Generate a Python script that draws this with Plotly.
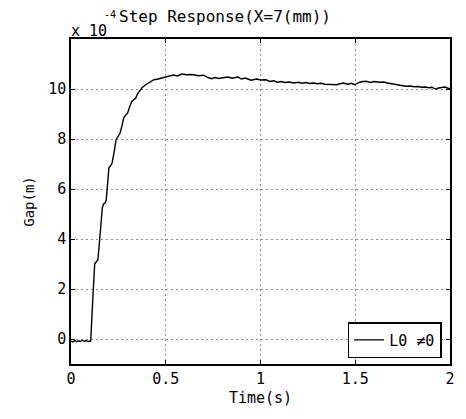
import plotly.graph_objects as go

t = [0, 0.01, 0.02, 0.03, 0.04, 0.05, 0.06, 0.07, 0.08, 0.09, 0.10, 0.104, 0.115, 0.125, 0.135, 0.142,
     0.155, 0.165, 0.172, 0.18, 0.186, 0.195, 0.2, 0.21, 0.217, 0.228, 0.238, 0.248, 0.259, 0.268,
     0.278, 0.288, 0.299, 0.31, 0.321, 0.332, 0.342, 0.35, 0.359, 0.375, 0.394, 0.41, 0.4375, 0.46,
     0.48, 0.498, 0.52, 0.54, 0.56, 0.585, 0.61, 0.64, 0.672, 0.70, 0.72, 0.741, 0.76, 0.78, 0.80,
     0.828, 0.85, 0.88, 0.90, 0.92, 0.95, 0.98, 1.0, 1.028, 1.05, 1.07, 1.089, 1.11, 1.13, 1.15,
     1.175, 1.20, 1.22, 1.24, 1.26, 1.28, 1.30, 1.32, 1.34, 1.36, 1.38, 1.40, 1.42, 1.436, 1.46,
     1.48, 1.497, 1.52, 1.54, 1.557, 1.58, 1.60, 1.627, 1.65, 1.67, 1.696, 1.72, 1.74, 1.766,
     1.79, 1.81, 1.83, 1.85, 1.87, 1.89, 1.905, 1.922, 1.94, 1.96, 1.974, 1.99, 2.0]
gap = [-0.08, -0.12, -0.06, -0.11, -0.07, -0.1, -0.05, -0.09, -0.06, -0.1, -0.08, -0.1, 1.6, 3.0, 3.1, 3.17,
       4.3, 5.24, 5.4, 5.44, 5.57, 6.3, 6.84, 6.95, 7.04, 7.5, 7.97, 8.1, 8.24, 8.5,
       8.84, 8.95, 9.04, 9.3, 9.5, 9.58, 9.64, 9.8, 9.9, 10.05, 10.17, 10.25, 10.37, 10.4,
       10.44, 10.48, 10.5, 10.56, 10.52, 10.6, 10.57, 10.58, 10.53, 10.55, 10.47, 10.41, 10.46, 10.42, 10.45,
       10.48, 10.43, 10.48, 10.4, 10.44, 10.35, 10.4, 10.36, 10.37, 10.3, 10.33, 10.27, 10.3, 10.26, 10.28,
       10.24, 10.27, 10.23, 10.26, 10.22, 10.24, 10.21, 10.23, 10.19, 10.2, 10.18, 10.17, 10.22, 10.24, 10.19,
       10.23, 10.17, 10.26, 10.3, 10.31, 10.26, 10.3, 10.27, 10.28, 10.24, 10.21, 10.18, 10.15, 10.11,
       10.12, 10.09, 10.1, 10.07, 10.08, 10.05, 10.07, 10.0, 10.04, 10.06, 10.08, 10.03, 10.0]

x_ticks = [0, 0.5, 1, 1.5, 2]
x_ticklabels = ["0", "0.5", "1", "1.5", "2"]
y_ticks = [0, 2, 4, 6, 8, 10]

FONT = "DejaVu Sans Mono"

fig = go.Figure()
fig.add_trace(go.Scatter(x=t, y=gap, mode="lines", name="L0 ≠0",
                         line=dict(color="black", width=1.4)))

axis_common = dict(showline=True, linecolor="black", linewidth=1.5, mirror="ticks",
                   ticks="inside", ticklen=4, tickcolor="black",
                   showgrid=True, gridcolor="#909090", griddash="2px,3px", gridwidth=1,
                   zeroline=False, tickfont=dict(family=FONT, size=15, color="black"))

fig.update_xaxes(range=[0, 2], tickvals=x_ticks, ticktext=x_ticklabels,
                 title=dict(text="Time(s)", font=dict(family=FONT, size=15, color="black"), standoff=6),
                 **axis_common)
fig.update_yaxes(range=[-1, 12], tickvals=y_ticks,
                 title=dict(text="Gap(m)", font=dict(family=FONT, size=14, color="black"), standoff=10),
                 **axis_common)

fig.add_annotation(x=0, y=1, xref="paper", yref="paper", xanchor="left", yanchor="bottom",
                   text="x 10", showarrow=False, font=dict(family=FONT, size=15, color="black"),
                   xshift=-2, yshift=-3)
fig.add_annotation(x=0, y=1, xref="paper", yref="paper", xanchor="left", yanchor="bottom",
                   text="-4", showarrow=False, font=dict(family=FONT, size=10, color="black"),
                   xshift=32, yshift=18, borderpad=0)
fig.add_annotation(x=0, y=1, xref="paper", yref="paper", xanchor="left", yanchor="bottom",
                   text="Step Response(X=7(mm))",
                   showarrow=False, font=dict(family=FONT, size=16, color="black"),
                   xshift=47, yshift=12, borderpad=0)

fig.update_layout(width=466, height=419, margin=dict(l=71, r=11, t=39, b=55),
                  paper_bgcolor="white", plot_bgcolor="white",
                  showlegend=True,
                  legend=dict(x=0.978, y=0.018, xanchor="right", yanchor="bottom",
                              bordercolor="black", borderwidth=1.5, bgcolor="white",
                              font=dict(family=FONT, size=15, color="black"),
                              itemwidth=30, tracegroupgap=0))

fig.write_html("out.html")
